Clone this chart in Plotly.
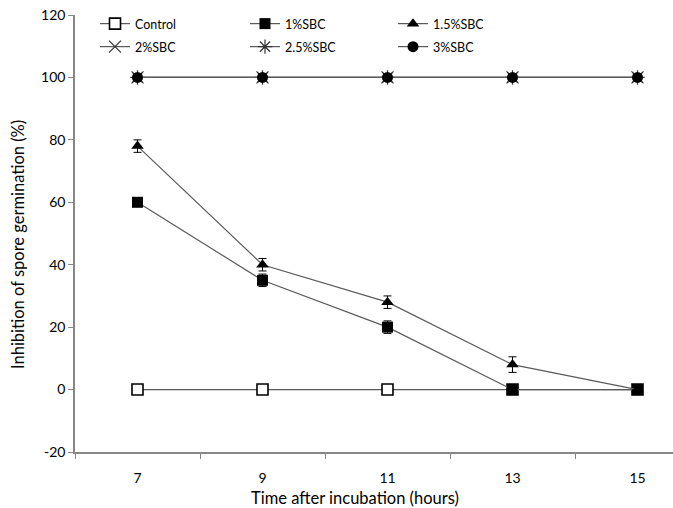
import plotly.graph_objects as go

hours = [7, 9, 11, 13, 15]
series_names = ["Control", "1%SBC", "1.5%SBC", "2%SBC", "2.5%SBC", "3%SBC"]
control = [0, 0, 0, 0, 0]
sbc_1 = [60, 35, 20, 0, 0]
sbc_1_5 = [78, 40, 28, 8, 0]
sbc_2 = [100, 100, 100, 100, 100]
sbc_2_5 = [100, 100, 100, 100, 100]
sbc_3 = [100, 100, 100, 100, 100]
err_1 = [0, 2, 2, 0, 0]
err_1_5 = [2, 2, 2, 2.5, 0]
y_ticks = [-20, 0, 20, 40, 60, 80, 100, 120]
y_tick_text = ["-20", "0", "20", "40", "60", "80", "100", "120"]
x_minor_ticks = [6, 8, 10, 12, 14]

FONT = "Lato, 'Open Sans', sans-serif"
line_col = "#5a5a5a"

W, H = 673, 508
ML, MR, MT, MB = 75, 0, 15, 56
PW, PH = W - ML - MR, H - MT - MB

def px_x(px):
    return (px - ML) / PW

def px_y(py):
    return 1 - (py - MT) / PH

styles = [
    dict(symbol="square", size=11, line=dict(width=1.6, color="black"), color="white"),
    dict(symbol="square", size=11, color="black"),
    dict(symbol="triangle-up", size=11, color="black"),
    dict(symbol="x-thin-open", size=12, line=dict(width=1.2), color="#333333"),
    dict(symbol="asterisk-open", size=12, line=dict(width=1.2), color="#333333"),
    dict(symbol="circle", size=11, color="black"),
]
values = [control, sbc_1, sbc_1_5, sbc_2, sbc_2_5, sbc_3]
errors = [None, err_1, err_1_5, None, None, None]
legend_ids = ["legend", "legend2", "legend3", "legend4", "legend5", "legend6"]
# legend text left edges (px) and row centres (px)
legend_text_x = [135, 285, 433, 135, 285, 433]
legend_row_y = [24, 24, 24, 47, 47, 47]

fig = go.Figure()
for name, vals, err, sty, lg in zip(series_names, values, errors, styles, legend_ids):
    kw = {}
    if err is not None:
        kw["error_y"] = dict(type="data", array=err, visible=True, color="black",
                             thickness=1, width=4)
    fig.add_trace(go.Scatter(
        x=hours, y=vals, name=name, mode="lines+markers",
        line=dict(color=line_col, width=1.2),
        marker=sty, legend=lg, **kw))

legend_layout = {}
for lg, tx, ty in zip(legend_ids, legend_text_x, legend_row_y):
    legend_layout[lg] = dict(
        x=px_x(tx - 40), y=px_y(ty), xanchor="left", yanchor="middle",
        font=dict(size=12.5, family=FONT), bgcolor="rgba(0,0,0,0)", itemwidth=30)

fig.update_layout(
    width=W, height=H,
    margin=dict(l=ML, r=MR, t=MT, b=MB, autoexpand=False),
    paper_bgcolor="white", plot_bgcolor="white",
    font=dict(family=FONT, size=14, color="black"),
    showlegend=True,
    **legend_layout,
)
fig.update_xaxes(
    range=[6, 15.568], tickvals=hours, ticktext=[str(h) for h in hours],
    ticks="", ticklabelstandoff=12, showgrid=False, zeroline=False,
    showline=True, linecolor="#868686", linewidth=1.5,
    tickfont=dict(size=14), ticklabeloverflow="allow",
    minor=dict(tickvals=x_minor_ticks, ticks="outside", ticklen=5, tickcolor="#868686", showgrid=False),
)
fig.update_yaxes(
    range=[-20, 120], tickvals=y_ticks, ticktext=y_tick_text, ticks="outside", ticklen=5,
    tickcolor="#868686", showgrid=False, zeroline=False, showline=True,
    linecolor="#868686", linewidth=1.5,
    tickfont=dict(size=14), ticklabeloverflow="allow",
)
fig.add_annotation(text="Time after incubation (hours)", xref="paper", yref="paper",
                   x=px_x(355), y=px_y(498), xanchor="center", yanchor="middle",
                   showarrow=False, font=dict(size=16.5))
fig.add_annotation(text="Inhibition of spore germination (%)", xref="paper", yref="paper",
                   x=px_x(18), y=px_y(245), xanchor="center", yanchor="middle",
                   textangle=-90, showarrow=False, font=dict(size=16.5))

fig.write_html("out.html", config={"displayModeBar": False},
               post_script="document.body.style.margin='0px';")
